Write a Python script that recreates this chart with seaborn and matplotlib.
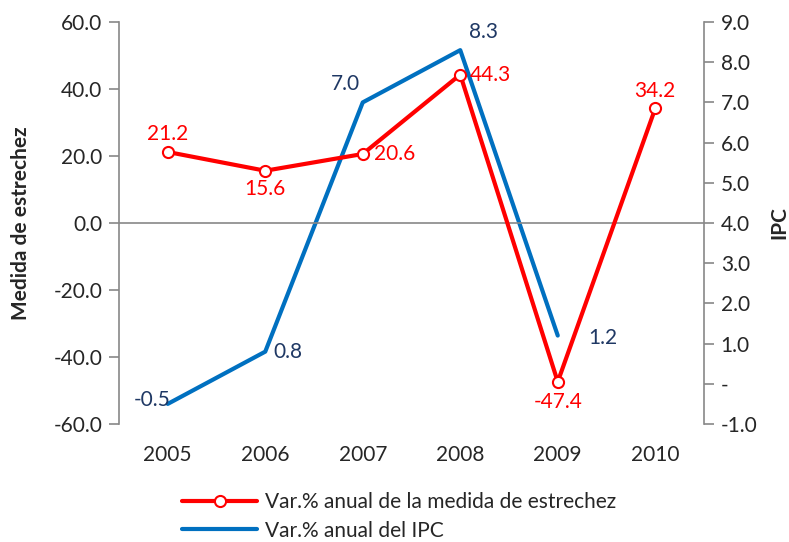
import matplotlib
matplotlib.use("Agg")
import matplotlib.pyplot as plt
import seaborn as sns
import pandas as pd
from matplotlib.ticker import FuncFormatter, FixedLocator

years = ["2005", "2006", "2007", "2008", "2009", "2010"]
estrechez = [21.2, 15.6, 20.6, 44.3, -47.4, 34.2]
ipc_years = ["2005", "2006", "2007", "2008", "2009"]
ipc = [-0.5, 0.8, 7.0, 8.3, 1.2]

left_ticks = [-60, -40, -20, 0, 20, 40, 60]
right_ticks = [-1, 0, 1, 2, 3, 4, 5, 6, 7, 8, 9]

lab_red = "Var.% anual de la medida de estrechez"
lab_blue = "Var.% anual del IPC"

sns.set_style("white")
plt.rcParams['font.family'] = ['Lato', 'DejaVu Sans']

RED = "#FF0000"
BLUE = "#0070C0"
NAVY = "#1F3864"
GRAY = "#878787"

fig = plt.figure(figsize=(7.89, 5.42), dpi=100)
ax = fig.add_axes([119/789, 1-424/542, (704-119)/789, (424-22)/542])
ax2 = ax.twinx()

df_r = pd.DataFrame({"x": range(len(years)), "y": estrechez})
df_b = pd.DataFrame({"x": range(len(ipc_years)), "y": ipc})

sns.lineplot(data=df_b, x="x", y="y", ax=ax2, color=BLUE, linewidth=3, label=lab_blue, legend=False)
sns.lineplot(data=df_r, x="x", y="y", ax=ax, color=RED, linewidth=3, marker="o",
             markersize=8, markerfacecolor="white", markeredgecolor=RED, markeredgewidth=1.5,
             label=lab_red, legend=False)
ax.set_zorder(ax2.get_zorder() + 1)
ax.patch.set_visible(False)

ax.set_xlim(-0.5, 5.5)
ax.set_ylim(-60, 60)
ax2.set_ylim(-1, 9)
ax.axhline(0, color=GRAY, linewidth=1.2, zorder=0)

ax.xaxis.set_major_locator(FixedLocator(range(len(years))))
ax.set_xticklabels(years)
ax.yaxis.set_major_locator(FixedLocator(left_ticks))
ax.yaxis.set_major_formatter(FuncFormatter(lambda v, p: f"{v:.1f}"))
ax2.yaxis.set_major_locator(FixedLocator(right_ticks))
ax2.yaxis.set_major_formatter(FuncFormatter(lambda v, p: "-" if abs(v) < 1e-9 else f"{v:.1f}"))

fs = 15
ax.tick_params(axis="x", length=0, labelsize=fs, pad=15)
ax.tick_params(axis="y", length=7, width=1.2, color=GRAY, labelsize=fs, pad=5, direction="out")
ax2.tick_params(axis="y", length=7, width=1.2, color=GRAY, labelsize=fs, pad=5, direction="out")
for a in (ax, ax2):
    for s in ("top", "bottom"):
        a.spines[s].set_visible(False)
    a.spines["left"].set_visible(a is ax)
    a.spines["right"].set_visible(a is ax2)
ax.spines["left"].set_color(GRAY)
ax.spines["left"].set_linewidth(1.2)
ax2.spines["right"].set_color(GRAY)
ax2.spines["right"].set_linewidth(1.2)
ax.grid(False); ax2.grid(False)

ax.set_xlabel("")
ax.set_ylabel("Medida de estrechez", fontsize=fs, fontweight="bold", va="center")
ax.yaxis.set_label_coords((21 - 119) / 585, 0.5)
ax2.set_ylabel("IPC", fontsize=fs, fontweight="bold", va="center")
ax2.yaxis.set_label_coords((779 - 119) / 585, 0.5)

red_off = [(0, 6, "center", "bottom"), (0, -6, "center", "top"), (8, 0, "left", "center"),
           (7, 0, "left", "center"), (0, -7, "center", "top"), (0, 5, "center", "bottom")]
for i, (v, o) in enumerate(zip(estrechez, red_off)):
    ax.annotate(f"{v:.1f}", (i, v), xytext=o[:2], textcoords="offset points",
                ha=o[2], va=o[3], color=RED, fontsize=fs)
blue_off = [(2, 3, "right", "center"), (6, 0, "left", "center"), (-2, 6, "right", "bottom"),
            (6, 6, "left", "bottom"), (22, -2, "left", "center")]
for i, (v, o) in enumerate(zip(ipc, blue_off)):
    ax2.annotate(f"{v:.1f}", (i, v), xytext=o[:2], textcoords="offset points",
                 ha=o[2], va=o[3], color=NAVY, fontsize=fs)

h1, l1 = ax.get_legend_handles_labels()
h2, l2 = ax2.get_legend_handles_labels()
fig.legend(h1 + h2, l1 + l2, loc="upper left", bbox_to_anchor=(174/789, 1-484/542),
           frameon=False, fontsize=fs, handlelength=3.6, handletextpad=0.35, labelspacing=0.4,
           borderaxespad=0)

fig.savefig("out.png", dpi=100)
